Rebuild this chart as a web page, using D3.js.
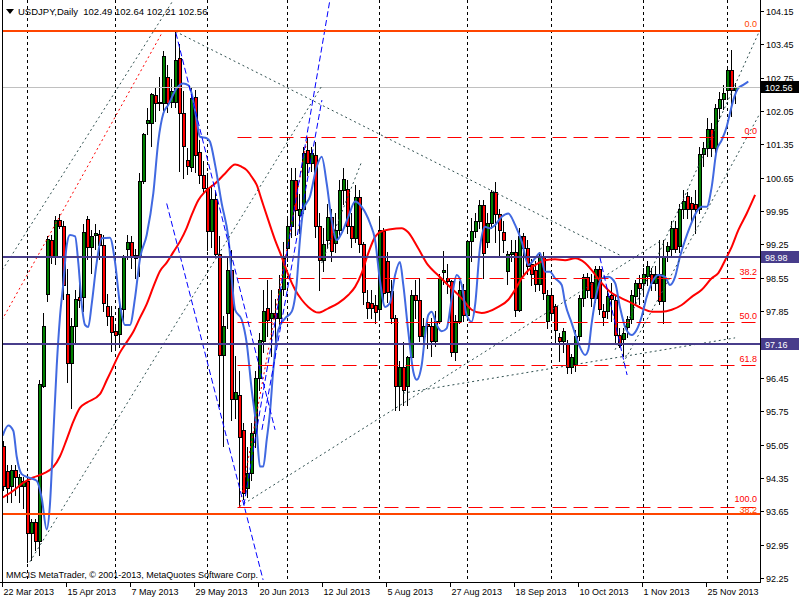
<!DOCTYPE html>
<html><head><meta charset="utf-8">
<script src="https://cdn.jsdelivr.net/npm/d3@7/dist/d3.min.js"></script>
<style>body{margin:0;background:#fff}svg{display:block}text{font-family:"Liberation Sans",Arial,sans-serif}</style>
</head><body>
<svg id="c" width="800" height="600"></svg>
<script>
// ---- DATA (USDJPY Daily, bars from 22 Mar 2013) ----
const open = [95.02,94.49,94.18,94.51,94.18,94.18,94.29,93.20,93.42,93.02,96.29,98.22,99.34,98.98,99.76,99.63,98.22,96.76,97.53,98.14,98.14,99.78,99.20,99.44,99.47,99.23,97.96,97.74,97.43,97.38,97.89,99.16,99.31,99.02,98.98,100.58,101.79,101.79,102.38,102.22,102.22,102.76,102.25,102.25,103.16,102.00,101.02,100.88,102.34,101.20,100.71,100.43,99.53,100.20,99.04,96.94,97.81,98.72,96.00,96.10,95.36,94.14,94.46,95.29,96.45,97.22,97.92,97.71,97.81,97.71,98.32,99.18,99.63,100.61,99.87,99.99,101.24,100.96,101.13,99.63,98.93,99.35,99.83,99.28,99.56,100.40,100.41,99.63,99.38,100.24,99.25,98.04,98.02,97.99,97.90,99.53,98.91,98.27,97.71,96.29,96.67,96.29,96.88,98.20,98.09,97.32,97.58,97.53,97.22,97.65,98.67,98.55,98.48,96.99,97.64,98.30,97.78,99.32,99.54,99.74,100.08,99.30,99.70,100.36,99.88,99.51,98.69,99.04,99.09,97.88,99.42,99.18,98.83,98.72,98.41,99.00,97.64,98.20,97.95,97.31,97.22,97.18,96.67,96.74,97.33,98.13,98.57,98.46,98.13,98.73,97.85,97.85,98.20,98.08,97.36,97.26,97.51,97.68,98.17,98.45,98.45,98.59,98.64,98.45,98.64,98.06,99.11,99.15,99.60,99.22,100.00,100.27,100.13,100.09,100.00,101.14,101.28,101.67,101.28,102.12,102.30,102.50,102.92,102.49];
const high = [95.13,94.62,94.62,94.62,94.43,94.36,94.36,93.49,93.49,96.40,97.82,99.42,99.45,99.85,99.89,99.74,98.73,97.71,98.29,98.43,99.67,99.85,99.56,99.67,99.56,99.45,98.22,97.96,97.56,98.03,99.02,99.45,99.42,99.16,100.76,101.60,102.11,102.43,102.54,102.76,103.31,103.02,102.73,103.72,103.45,102.47,101.27,102.53,102.49,101.45,101.00,100.75,100.50,100.35,99.42,97.74,99.00,99.14,96.90,96.60,95.50,95.00,95.50,96.60,97.40,98.30,98.50,98.30,98.10,98.60,99.30,99.80,100.85,100.86,100.30,101.30,101.51,101.30,101.40,99.90,99.60,100.10,100.00,99.90,100.60,100.85,100.60,99.90,100.50,100.40,99.30,98.30,98.30,98.20,99.80,99.60,99.10,98.50,97.78,96.80,97.20,96.90,98.30,98.50,98.55,97.71,97.74,97.71,97.85,98.62,99.11,98.83,98.50,97.78,98.48,98.41,99.35,99.80,99.90,100.19,100.19,99.90,100.40,100.57,100.00,99.74,99.11,99.35,99.35,99.60,99.49,99.35,98.95,98.90,99.10,99.10,98.30,98.30,98.00,97.40,97.50,97.25,96.95,97.45,98.20,98.62,98.65,98.62,98.80,98.80,98.00,98.30,98.45,98.20,97.50,97.50,97.75,98.30,98.50,98.60,98.75,98.90,98.75,98.80,99.35,99.35,99.30,99.75,99.75,100.10,100.40,100.35,100.25,100.40,101.30,101.40,101.90,101.80,102.20,102.45,102.60,103.00,103.34,102.64];
const low = [94.10,93.85,93.85,94.00,93.85,93.71,92.58,92.62,92.84,92.73,96.25,98.07,98.87,98.83,99.60,98.11,96.36,95.82,97.20,97.93,97.85,98.94,98.65,99.16,98.94,97.85,97.56,97.02,97.09,97.09,97.63,98.94,98.76,98.54,98.58,100.54,101.56,101.31,101.85,102.07,102.07,102.03,102.14,102.14,100.80,100.65,100.73,100.80,100.77,100.55,100.35,99.14,99.20,99.00,95.85,95.01,97.50,95.57,95.60,93.75,93.90,93.95,94.30,95.00,96.20,97.00,97.32,96.90,97.00,97.50,98.20,98.90,99.40,99.45,99.50,99.90,100.70,100.80,99.40,98.30,98.70,99.20,98.90,99.10,99.40,100.10,99.50,99.20,99.30,99.10,98.00,97.70,97.70,97.60,97.70,98.06,98.05,97.60,95.78,95.78,95.89,95.89,96.80,97.71,97.22,97.11,97.08,96.90,97.11,97.60,98.41,98.23,96.90,96.83,97.60,97.64,97.70,98.90,99.40,99.60,98.55,99.20,99.60,99.30,99.00,99.10,98.41,98.90,97.74,97.85,98.62,98.62,98.40,98.27,98.30,98.10,97.50,97.70,97.20,96.80,97.00,96.56,96.55,96.60,97.25,97.95,98.15,97.95,98.05,97.80,97.55,97.70,97.65,97.20,97.10,96.90,97.30,97.60,98.00,98.00,98.20,98.40,98.30,98.30,98.00,97.60,98.90,99.00,99.10,99.10,99.80,99.80,99.70,99.50,99.90,100.90,101.10,101.10,101.20,101.90,102.10,102.30,101.95,102.21];
const close = [94.18,94.14,94.51,94.36,94.36,94.29,93.20,93.42,93.02,96.33,97.53,99.37,98.98,99.76,99.63,98.40,96.76,97.53,98.11,98.09,99.51,99.20,99.42,99.49,99.23,98.03,97.74,97.42,97.36,97.91,98.98,99.31,98.98,98.96,100.58,101.56,101.87,102.40,102.22,102.25,103.20,102.22,102.47,103.13,102.00,101.31,100.90,102.32,101.13,100.71,100.43,99.53,100.20,99.04,96.94,97.53,98.72,96.00,96.15,95.20,94.04,94.46,95.29,96.45,97.25,97.85,97.67,97.81,97.71,98.32,98.97,99.63,100.61,99.98,99.99,101.18,100.96,101.17,99.63,98.93,99.25,99.83,99.11,99.56,100.40,100.62,99.63,99.38,100.24,99.25,98.25,97.92,97.92,97.83,99.55,98.23,98.25,97.71,96.29,96.67,96.20,96.88,98.18,98.09,97.32,97.53,97.53,97.22,97.65,98.55,98.72,98.48,96.99,97.64,98.30,97.78,99.32,99.54,99.74,100.08,99.07,99.70,100.36,99.88,99.56,99.35,99.04,99.09,97.88,99.42,99.18,98.79,98.62,98.41,99.00,98.23,98.20,97.81,97.46,97.22,97.44,96.67,96.88,97.33,98.13,98.57,98.30,98.13,98.73,97.89,97.72,98.17,98.10,97.36,97.15,97.40,97.68,98.20,98.45,98.34,98.64,98.80,98.45,98.64,98.06,99.00,99.22,99.60,99.15,100.00,100.16,100.00,100.00,100.00,101.14,101.28,101.67,101.28,102.12,102.30,102.43,102.92,102.50,102.56];

// moving averages: [bar index, price]
const maRed = [[-0.2,93.94],[2.45,94.08],[4.95,94.25],[7.45,94.36],[9.95,94.44],[12.45,94.58],[14.1,94.80],[15.8,95.16],[17.45,95.53],[19.1,95.82],[20.8,95.93],[24.1,96.11],[25.8,96.40],[27.45,96.69],[29.1,96.98],[30.8,97.20],[32.45,97.42],[34.1,97.71],[35.8,98.00],[37.45,98.36],[39.1,98.69],[40.8,98.87],[42.45,99.09],[44.1,99.31],[45.8,99.60],[47.05,99.87],[48.7,100.18],[50.4,100.36],[52.9,100.53],[55.4,100.74],[57.9,100.93],[59.55,100.88],[60.8,100.81],[62.05,100.67],[63.3,100.50],[64.55,100.18],[66.2,99.76],[67.9,99.34],[69.55,98.99],[71.2,98.61],[72.9,98.30],[74.55,98.09],[76.2,97.94],[78.7,97.82],[81.2,97.91],[83.7,98.02],[86.2,98.19],[87.9,98.36],[89.55,98.65],[91.2,99.07],[92.9,99.41],[94.1,99.51],[96.8,99.57],[99.55,99.59],[101.1,99.51],[103.6,99.18],[106.1,98.82],[108.6,98.61],[111.1,98.40],[114.55,98.12],[117.05,97.88],[119.55,97.81],[121.2,97.84],[123.7,97.94],[126.2,98.09],[127.9,98.30],[129.55,98.54],[131.2,98.71],[133.7,98.86],[135.4,98.92],[137.9,98.94],[140.4,98.92],[142.9,98.96],[145.4,98.86],[147.05,98.71],[149.55,98.44],[152.05,98.23],[154.55,98.12],[157.05,98.02],[159.55,97.91],[162.05,97.84],[164.55,97.84],[167.05,97.88],[169.55,97.98],[172.05,98.15],[174.55,98.30],[177.05,98.54],[178.7,98.65],[180.4,98.92],[182.05,99.20],[183.7,99.55],[185.8,99.90],[187.9,100.29]];
const maBlue = [[-0.2,95.24],[1.2,95.45],[2.45,95.34],[3.3,94.80],[4.55,94.43],[6.2,94.36],[8.3,94.29],[9.55,93.93],[10.8,93.27],[11.6,93.78],[12.45,95.24],[13.3,96.69],[14.1,97.71],[14.95,98.43],[15.8,99.23],[16.6,99.45],[17.9,99.42],[18.7,98.87],[19.55,98.00],[20.4,97.56],[21.2,97.52],[22.05,98.00],[23.3,98.87],[24.55,99.38],[26.6,99.39],[27.9,98.87],[29.1,98.00],[30.4,97.56],[31.6,97.56],[32.9,98.14],[34.1,98.94],[35.8,99.45],[37.45,100.32],[38.7,101.42],[39.95,102.00],[41.2,102.18],[43.3,102.53],[44.95,102.63],[46.2,102.59],[47.05,102.42],[48.3,101.86],[49.1,101.51],[50.8,101.48],[51.6,101.41],[52.9,100.92],[54.55,100.11],[56.2,99.41],[57.9,97.88],[59.55,97.67],[60.8,97.18],[62.05,96.20],[63.3,95.36],[64.1,94.59],[64.95,94.59],[65.8,95.15],[66.6,95.71],[67.45,96.62],[68.7,97.46],[70.4,97.70],[72.05,97.84],[73.3,98.44],[74.1,99.34],[74.95,99.97],[76.6,100.25],[78.3,100.88],[79.55,101.09],[80.8,100.53],[82.05,99.76],[83.3,99.34],[84.55,99.49],[86.2,99.83],[87.9,100.15],[89.55,100.04],[91.6,99.70],[92.9,99.34],[94.1,98.50],[95.4,97.94],[96.6,98.02],[97.9,98.61],[99.1,98.88],[99.95,98.40],[101.2,97.42],[102.45,96.58],[103.3,96.41],[104.55,96.72],[105.4,97.35],[106.2,97.77],[107.05,97.84],[108.3,97.56],[109.55,97.43],[110.8,97.49],[112.05,98.12],[113.3,98.61],[114.55,98.40],[115.8,97.77],[117.05,97.63],[117.9,97.98],[119.1,99.17],[120.4,99.62],[121.6,99.59],[122.9,99.66],[124.55,99.83],[126.2,99.90],[127.9,99.66],[129.55,99.31],[131.2,98.82],[132.9,98.96],[134.1,99.07],[135.4,98.68],[136.6,98.68],[137.9,98.54],[139.55,98.40],[140.4,98.02],[142.05,97.60],[143.7,97.18],[145.4,96.93],[146.2,97.04],[147.05,97.60],[148.3,98.23],[149.55,98.54],[151.2,98.57],[152.9,98.44],[154.1,97.94],[155.4,97.52],[157.05,97.35],[158.3,97.46],[159.55,97.74],[160.8,98.15],[162.05,98.44],[163.7,98.61],[165.4,98.57],[166.6,98.40],[167.9,98.57],[169.1,98.99],[170.4,99.34],[171.6,99.62],[173.3,99.94],[174.55,100.04],[175.8,100.04],[177.05,100.46],[178.3,101.23],[179.55,101.44],[180.8,101.72],[181.6,102.00],[182.45,102.28],[183.7,102.53],[184.95,102.60],[186.2,102.67]];

// axis ticks
const priceTicks = [104.15,103.45,102.75,102.05,101.35,100.65,99.95,99.25,98.55,97.85,97.15,96.45,95.75,95.05,94.35,93.65,92.95,92.25];
const timeTickBars = [0,16,32,48,64,80,96,112,128,144,160,176];
const timeTickLabels = ["22 Mar 2013","15 Apr 2013","7 May 2013","29 May 2013","20 Jun 2013","12 Jul 2013","5 Aug 2013","27 Aug 2013","18 Sep 2013","10 Oct 2013","1 Nov 2013","25 Nov 2013"];
const monthStartBars = [6,28,51,71,94,116,137,160,181];

// objects
const orangeLevels = [103.73, 93.59];
const orangeLabels = ["0.0","38.2"];
const fibStartBar = 59;
const fibPrices = [101.51, 98.54, 97.62, 96.71, 93.74];
const fibLabels = ["0.0","38.2","50.0","61.8","100.0"];
const purpleLevels = [98.98, 97.16];
const lastPrice = 102.56;
const header = "USDJPY,Daily  102.49 102.64 102.21 102.56";
const copyright = "MMCIS MetaTrader, \u00A9 2001-2013, MetaQuotes Software Corp.";
// trend lines: [bar1, price1, bar2, price2]
const grayDotLines = [[-1,98.62,42.6,104.40],[6.6,92.59,79.6,102.58],[43,103.72,155.4,98.97],[59,93.75,164,99.31],[99.9,96.13,182.9,97.29],[79.55,98.86,89.55,100.99],[152.9,97.04,189.1,103.75],[154.9,96.76,189.1,102.00]];
const redDotLines = [[-1,97.57,39.95,103.74],[59,93.74,76,101.51]];
const blueDashLines = [[40.8,100.11,64.9,92.21],[43.1,103.69,67.9,95.36],[60.1,93.78,81.6,104.38],[64.6,95.36,79.6,102.28],[149.1,98.98,155.9,96.51]];

// ---- DRAW ----
const W = 800, H = 600, plotL = 3, plotR = 760, plotB = 583;
const svg = d3.select("#c");
const x = d3.scaleLinear().domain([0, 183]).range([3.5, 735.5]);
const y = d3.scaleLinear().domain([92.25, 104.15]).range([578, 11]);
const py = v => Math.round(y(v)) + 0.5;

svg.append("rect").attr("width", W).attr("height", H).attr("fill", "#fff");
svg.append("defs").append("clipPath").attr("id", "clip")
  .append("rect").attr("x", plotL).attr("y", 0).attr("width", plotR - plotL).attr("height", plotB);
const g = svg.append("g").attr("clip-path", "url(#clip)");

// period separators
g.selectAll("line.sep").data(monthStartBars).join("line")
  .attr("x1", d => x(d)).attr("x2", d => x(d)).attr("y1", 0).attr("y2", plotB)
  .attr("stroke", "#000").attr("stroke-dasharray", "3,3");

// candles
const candles = open.map((o, i) => ({i, o, h: high[i], l: low[i], c: close[i]}));
g.selectAll("line.wick").data(candles).join("line")
  .attr("x1", d => x(d.i)).attr("x2", d => x(d.i))
  .attr("y1", d => Math.round(y(d.h))).attr("y2", d => Math.round(y(d.l)) + 1)
  .attr("stroke", "#000");
g.selectAll("rect.body").data(candles).join("rect")
  .attr("x", d => x(d.i) - 1).attr("width", 3)
  .attr("y", d => py(Math.max(d.o, d.c)))
  .attr("height", d => Math.max(1, Math.round(y(Math.min(d.o, d.c))) - Math.round(y(Math.max(d.o, d.c)))))
  .attr("fill", d => d.c >= d.o ? "#008000" : "#ff0000")
  .attr("stroke", "#000").attr("stroke-width", 1);

// moving averages
const ml = d3.line().x(d => x(d[0])).y(d => y(d[1])).curve(d3.curveMonotoneX);
g.append("path").attr("d", ml(maRed)).attr("fill", "none").attr("stroke", "#ff0000").attr("stroke-width", 2);
g.append("path").attr("d", ml(maBlue)).attr("fill", "none").attr("stroke", "#4169e1").attr("stroke-width", 2);

// last price line
g.append("line").attr("x1", plotL).attr("x2", plotR).attr("y1", py(lastPrice)).attr("y2", py(lastPrice))
  .attr("stroke", "#c0c0c0");

// fib (red dashed)
g.selectAll("line.fib").data(fibPrices).join("line")
  .attr("x1", x(fibStartBar) - 2).attr("x2", plotR).attr("y1", d => py(d)).attr("y2", d => py(d))
  .attr("stroke", "#ff0000").attr("stroke-dasharray", "14,7");

// trend lines
function seg(sel, data, color, dash, w) {
  sel.selectAll(null).data(data).join("line")
    .attr("x1", d => x(d[0])).attr("y1", d => y(d[1])).attr("x2", d => x(d[2])).attr("y2", d => y(d[3]))
    .attr("stroke", color).attr("stroke-width", w).attr("stroke-dasharray", dash);
}
seg(g, grayDotLines, "#2f4f4f", "2,3", 1);
seg(g, redDotLines, "#ff0000", "2,3", 1);
seg(g, blueDashLines, "#0000ff", "6,3", 1);

// purple & orange horizontals
g.selectAll("line.pur").data(purpleLevels).join("line")
  .attr("x1", plotL).attr("x2", plotR).attr("y1", d => Math.round(y(d))).attr("y2", d => Math.round(y(d)))
  .attr("stroke", "#483d8b").attr("stroke-width", 2);
g.selectAll("line.org").data(orangeLevels).join("line")
  .attr("x1", plotL).attr("x2", plotR).attr("y1", d => Math.round(y(d))).attr("y2", d => Math.round(y(d)))
  .attr("stroke", "#ff4500").attr("stroke-width", 2);

// level labels
const lab = svg.append("g").attr("font-size", "9px").attr("text-anchor", "end");
lab.selectAll("text.f").data(fibPrices).join("text")
  .attr("x", 757).attr("y", (d, i) => Math.round(y(d)) - (i === fibPrices.length - 1 ? 5 : 3)).attr("fill", "#ff0000")
  .text((d, i) => fibLabels[i]);
lab.selectAll("text.o").data(orangeLevels).join("text")
  .attr("x", 757).attr("y", (d, i) => Math.round(y(d)) - (i === 0 ? 4 : 1)).attr("fill", "#ff4500")
  .text((d, i) => orangeLabels[i]);

// axes frame
svg.append("line").attr("x1", 2.5).attr("x2", 2.5).attr("y1", 0).attr("y2", plotB).attr("stroke", "#000");
svg.append("line").attr("x1", 0).attr("x2", plotR + 1).attr("y1", plotB - 0.5).attr("y2", plotB - 0.5).attr("stroke", "#000");
svg.append("line").attr("x1", plotR + 0.5).attr("x2", plotR + 0.5).attr("y1", 0).attr("y2", plotB).attr("stroke", "#000");

// price axis
const pa = svg.append("g").attr("font-size", "9px").attr("fill", "#000");
pa.selectAll("line").data(priceTicks).join("line")
  .attr("x1", plotR + 1).attr("x2", plotR + 4).attr("y1", d => py(d)).attr("y2", d => py(d)).attr("stroke", "#000");
pa.selectAll("text").data(priceTicks).join("text")
  .attr("x", 766).attr("y", d => Math.round(y(d)) + 4).text(d => d.toFixed(2));

// time axis
const ta = svg.append("g").attr("font-size", "9px").attr("fill", "#000");
ta.selectAll("line").data(timeTickBars).join("line")
  .attr("x1", d => x(d) - 1).attr("x2", d => x(d) - 1).attr("y1", plotB).attr("y2", plotB + 4).attr("stroke", "#000");
ta.selectAll("text").data(timeTickBars).join("text")
  .attr("x", d => x(d)).attr("y", 595).text((d, i) => timeTickLabels[i]);

// price boxes
function box(p, bg) {
  const yy = Math.round(y(p));
  svg.append("rect").attr("x", 761).attr("y", yy - 6).attr("width", 38).attr("height", 12).attr("fill", bg);
  svg.append("text").attr("x", 765).attr("y", yy + 4).attr("font-size", "9px").attr("fill", "#fff").text(p.toFixed(2));
}
box(lastPrice, "#000");
purpleLevels.forEach(p => box(p, "#483d8b"));

// header & copyright
svg.append("path").attr("d", "M6,9 L14,9 L10,14 Z").attr("fill", "#000");
svg.append("text").attr("x", 18).attr("y", 15).attr("font-size", "9.5px").attr("fill", "#000")
  .attr("xml:space", "preserve").style("white-space", "pre").text(header);
svg.append("text").attr("x", 6).attr("y", 578).attr("font-size", "9px").attr("fill", "#000").text(copyright);
</script>
</body></html>
